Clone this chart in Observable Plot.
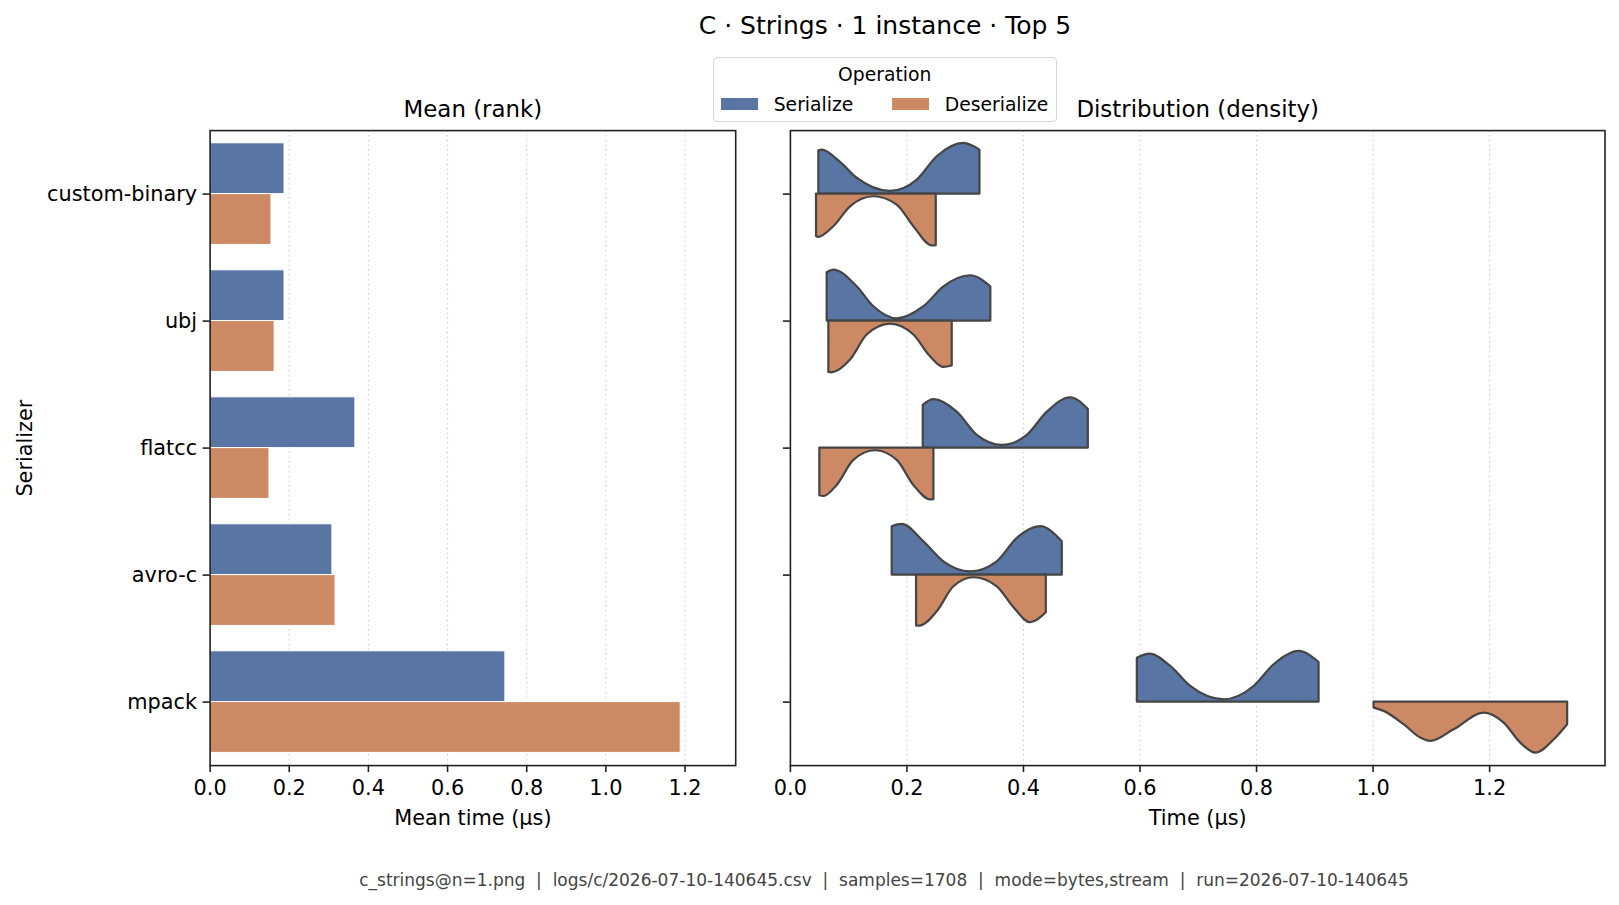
<!DOCTYPE html>
<html>
<head>
<meta charset="utf-8">
<script src="https://cdn.jsdelivr.net/npm/d3@7"></script>
<script src="https://cdn.jsdelivr.net/npm/@observablehq/plot@0.6"></script>
<style>
  body { margin: 0; background: #fff; }
  #fig { position: relative; width: 1619px; height: 905px; font-family: "DejaVu Sans", sans-serif; color: #000; overflow: hidden; background: #fff; }
  .t { position: absolute; transform: translate(-50%, -50%); white-space: pre; }
  .l { position: absolute; transform: translateY(-50%); white-space: pre; }
  .panel { position: absolute; top: 0; }
  .panel svg { overflow: visible; }
</style>
</head>
<body>
<div id="fig">
  <div class="t" style="left:885px; top:25px; font-size:25px;">C · Strings · 1 instance · Top 5</div>

  <div id="legend" style="position:absolute; left:712.7px; top:56.7px; width:342px; height:63px; border:1px solid #d6d6d6; border-radius:4px; background:rgba(255,255,255,0.85); z-index:5;"></div>

  <div class="t" style="left:884px; top:880px; font-size:17px; color:#444;">c_strings@n=1.png  |  logs/c/2026-07-10-140645.csv  |  samples=1708  |  mode=bytes,stream  |  run=2026-07-10-140645</div>

  <div id="left" class="panel" style="left:0px;"></div>
  <div id="right" class="panel" style="left:760px;"></div>
</div>

<script>
// Serializers in rank order, and the two operations
const serializers = ["custom-binary", "ubj", "flatcc", "avro-c", "mpack"];
const operations = ["Serialize", "Deserialize"];
const colors = ["#5975a4", "#cc8963"];

// Mean time per serializer (µs)
const meanSerialize   = [0.188, 0.188, 0.367, 0.309, 0.746];
const meanDeserialize = [0.155, 0.163, 0.150, 0.317, 1.189];

// Tick values
const meanTicks = [0, 0.2, 0.4, 0.6, 0.8, 1.0, 1.2];
const timeTicks = [0, 0.2, 0.4, 0.6, 0.8, 1.0, 1.2];

// Density profiles (time µs, half-width) of each split violin, in serializer order
const densitySerialize = [
  [[0.0488,0.341],[0.0545,0.346],[0.0860,0.250],[0.1146,0.125],[0.1719,0.021],[0.2177,0.110],[0.2520,0.294],[0.2978,0.399],[0.3253,0.346]],
  [[0.0631,0.381],[0.0746,0.402],[0.1146,0.270],[0.1433,0.113],[0.1833,0.018],[0.2291,0.113],[0.2635,0.270],[0.3093,0.357],[0.3440,0.270]],
  [[0.2280,0.336],[0.2463,0.381],[0.2863,0.283],[0.3207,0.100],[0.3636,0.021],[0.4065,0.100],[0.4409,0.283],[0.4810,0.396],[0.5113,0.304]],
  [[0.1747,0.381],[0.1919,0.399],[0.2291,0.262],[0.2634,0.105],[0.3093,0.026],[0.3550,0.105],[0.3894,0.289],[0.4294,0.381],[0.4666,0.262]],
  [[0.5954,0.346],[0.6172,0.378],[0.6527,0.281],[0.6870,0.123],[0.7442,0.018],[0.7958,0.123],[0.8301,0.294],[0.8730,0.399],[0.9073,0.312]]
];
const densityDeserialize = [
  [[0.0448,0.335],[0.0480,0.341],[0.0745,0.257],[0.1032,0.100],[0.1433,0.021],[0.1833,0.087],[0.2119,0.257],[0.2434,0.407],[0.2503,0.405]],
  [[0.0660,0.404],[0.0717,0.407],[0.1032,0.307],[0.1318,0.110],[0.1719,0.024],[0.2119,0.110],[0.2405,0.281],[0.2635,0.365],[0.2777,0.354]],
  [[0.0505,0.375],[0.0574,0.381],[0.0803,0.294],[0.1089,0.097],[0.1461,0.021],[0.1833,0.097],[0.2119,0.294],[0.2405,0.407],[0.2463,0.405]],
  [[0.2165,0.400],[0.2222,0.402],[0.2520,0.289],[0.2806,0.092],[0.3150,0.021],[0.3550,0.092],[0.3836,0.257],[0.4122,0.375],[0.4392,0.297]],
  [[1.0017,0.047],[1.0189,0.073],[1.0532,0.178],[1.0818,0.283],[1.0990,0.310],[1.1390,0.218],[1.1906,0.087],[1.2249,0.165],[1.2535,0.323],[1.2795,0.402],[1.3110,0.297],[1.3339,0.178]]
];

// Tables built from the arrays above
const meanRows = serializers.flatMap((s, i) => [
  {serializer: s, idx: i, op: "Serialize", value: meanSerialize[i]},
  {serializer: s, idx: i, op: "Deserialize", value: meanDeserialize[i]}
]);
const violinRows = serializers.flatMap((s, i) => [
  ...densitySerialize[i].map(([t, w]) => ({serializer: s, idx: i, op: "Serialize", t, w})),
  ...densityDeserialize[i].map(([t, w]) => ({serializer: s, idx: i, op: "Deserialize", t, w}))
]);

const HALF = 0.4;          // each hue takes half of the 0.8 category width
const FS = 20.83;          // tick / axis label size
const spine = "#222";
const grid = {stroke: "#cfcfcf", strokeOpacity: 1, strokeDasharray: "1.6,3.2", strokeWidth: 1.1};
const baseStyle = {fontFamily: "DejaVu Sans", fontSize: FS + "px", background: "transparent", color: "#000", overflow: "visible"};
const fmt = d3.format(".1f");
const label = (text, opts) => Plot.text([text], {text: d => d, textAnchor: "middle", lineAnchor: "middle", ...opts});

const left = Plot.plot({
  width: 760, height: 905,
  marginLeft: 209.6, marginRight: 24.8, marginTop: 130.1, marginBottom: 139.9,
  style: baseStyle,
  x: {domain: [0, 1.328]},
  y: {domain: [-0.5, 4.5], reverse: true},
  color: {domain: operations, range: colors},
  marks: [
    Plot.gridX(meanTicks, grid),
    Plot.rect(meanRows, {
      x1: 0, x2: "value",
      y1: d => d.op === "Serialize" ? d.idx - HALF : d.idx,
      y2: d => d.op === "Serialize" ? d.idx : d.idx + HALF,
      fill: "op", stroke: "white", strokeWidth: 1
    }),
    Plot.frame({stroke: spine, strokeWidth: 1.6}),
    Plot.axisX({ticks: meanTicks, tickFormat: fmt, tickSize: 7, tickPadding: 8, strokeWidth: 1.6, stroke: spine, label: null}),
    Plot.axisY({ticks: d3.range(serializers.length), tickFormat: i => serializers[i], tickSize: 7, tickPadding: 6, strokeWidth: 1.6, stroke: spine, label: null}),
    label("Mean time (µs)", {frameAnchor: "bottom", dy: 53, fontSize: FS}),
    label("Mean (rank)", {frameAnchor: "top", dy: -21, fontSize: 22.9}),
    label("Serializer", {frameAnchor: "left", dx: -184.6, rotate: -90, fontSize: FS})
  ]
});
document.getElementById("left").appendChild(left);

const right = Plot.plot({
  width: 859, height: 905,
  marginLeft: 29.9, marginRight: 14.5, marginTop: 130.1, marginBottom: 139.9,
  style: baseStyle,
  x: {domain: [0, 1.398]},
  y: {domain: [-0.5, 4.5], reverse: true},
  color: {domain: operations, range: colors},
  marks: [
    Plot.gridX(timeTicks, grid),
    Plot.areaY(violinRows, {
      x: "t",
      y1: "idx",
      y2: d => d.op === "Serialize" ? d.idx - d.w : d.idx + d.w,
      z: d => d.serializer + "|" + d.op,
      fill: "op", stroke: "#454545", strokeWidth: 2.2, strokeLinejoin: "round",
      curve: "monotone-x"
    }),
    Plot.frame({stroke: spine, strokeWidth: 1.6}),
    Plot.axisX({ticks: timeTicks, tickFormat: fmt, tickSize: 7, tickPadding: 8, strokeWidth: 1.6, stroke: spine, label: null}),
    Plot.axisY({ticks: d3.range(serializers.length), tickFormat: () => "", tickSize: 7, strokeWidth: 1.6, stroke: spine, label: null}),
    label("Time (µs)", {frameAnchor: "bottom", dy: 53, fontSize: FS}),
    label("Distribution (density)", {frameAnchor: "top", dy: -21, fontSize: 22.9})
  ]
});
document.getElementById("right").appendChild(right);

// Legend for the operation colours
const legend = document.getElementById("legend");
legend.innerHTML = `
  <div class="t" style="left:171px; top:16.6px; font-size:18.75px;">Operation</div>
  <div style="position:absolute; left:7.5px; top:40.5px; width:37px; height:11.4px; background:${colors[0]};"></div>
  <div class="l" style="left:60px; top:46px; font-size:18.75px;">${operations[0]}</div>
  <div style="position:absolute; left:178.5px; top:40.5px; width:37px; height:11.4px; background:${colors[1]};"></div>
  <div class="l" style="left:231px; top:46px; font-size:18.75px;">${operations[1]}</div>`;
</script>
</body>
</html>
